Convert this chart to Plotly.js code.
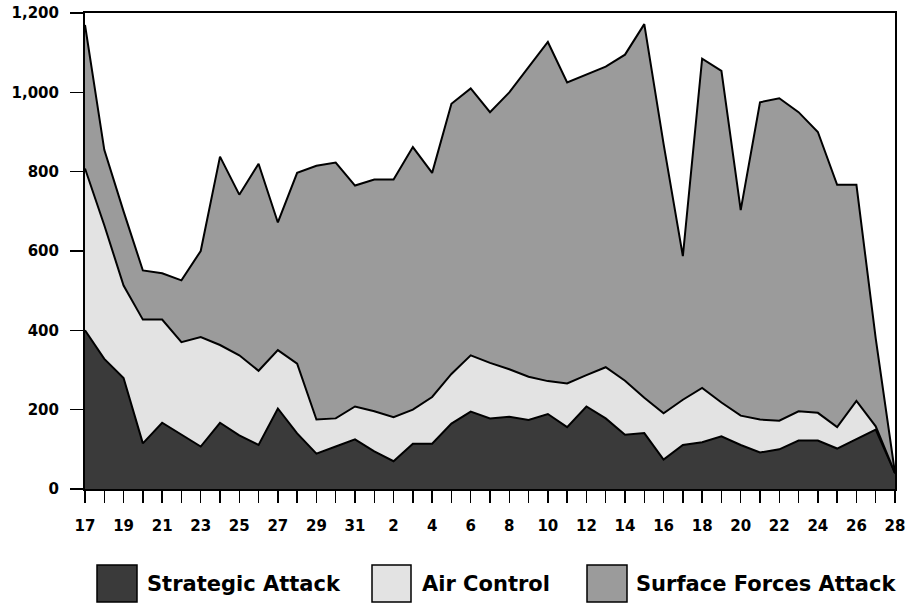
<!DOCTYPE html>
<html>
<head>
<meta charset="utf-8">
<script src="https://cdn.plot.ly/plotly-3.0.1.min.js"></script>
<style>
  html, body { margin: 0; padding: 0; background: #ffffff; }
  #chart { width: 906px; height: 603px; }
</style>
</head>
<body>
<div id="chart"></div>
<script>
// ---- Data (sorties per day) ----
const dates = [
  '1991-01-17','1991-01-18','1991-01-19','1991-01-20','1991-01-21','1991-01-22','1991-01-23',
  '1991-01-24','1991-01-25','1991-01-26','1991-01-27','1991-01-28','1991-01-29','1991-01-30',
  '1991-01-31','1991-02-01','1991-02-02','1991-02-03','1991-02-04','1991-02-05','1991-02-06',
  '1991-02-07','1991-02-08','1991-02-09','1991-02-10','1991-02-11','1991-02-12','1991-02-13',
  '1991-02-14','1991-02-15','1991-02-16','1991-02-17','1991-02-18','1991-02-19','1991-02-20',
  '1991-02-21','1991-02-22','1991-02-23','1991-02-24','1991-02-25','1991-02-26','1991-02-27',
  '1991-02-28'
];

const strategicAttack = [400,328,280,115,167,136,107,167,135,111,203,140,89,107,125,95,70,114,114,165,195,178,182,174,189,156,208,178,137,141,74,111,118,133,111,92,100,122,122,102,125,150,40];
const airControl = [408,337,233,312,260,234,276,196,202,187,147,176,86,71,83,101,111,86,118,125,142,140,120,109,83,110,79,129,136,89,117,114,137,85,74,83,72,74,70,54,97,8,0];
const surfaceForcesAttack = [362,190,187,124,117,156,217,475,405,522,322,481,640,645,557,584,599,662,565,681,673,632,698,782,855,759,758,758,822,942,679,362,830,836,518,800,813,754,708,611,545,222,0];

const seriesNames = ['Strategic Attack', 'Air Control', 'Surface Forces Attack'];
const seriesColors = ['#3a3a3a', '#e3e3e3', '#9b9b9b'];
const seriesValues = [strategicAttack, airControl, surfaceForcesAttack];

// ---- Layout geometry (pixels) ----
const W = 906, H = 603;
const M = { l: 85, r: 11, t: 13, b: 114 };
const plotW = W - M.l - M.r, plotH = H - M.t - M.b;
const pxX = x => (x - M.l) / plotW;
const pxY = y => (H - M.b - y) / plotH;

const FONT = { family: 'DejaVu Sans, Arial, sans-serif', color: '#000000', weight: 'bold' };

const traces = seriesValues.map((vals, i) => ({
  x: dates,
  y: vals,
  name: seriesNames[i],
  type: 'scatter',
  mode: 'lines',
  stackgroup: 'one',
  fillcolor: seriesColors[i],
  line: { color: '#000000', width: 2, shape: 'linear' },
  hoverinfo: 'x+y+name'
}));

// custom legend (large swatches like the original)
const legendItems = [
  { box: [97, 137], textX: 145 },
  { box: [372, 411], textX: 420 },
  { box: [587, 627], textX: 634 }
];
const shapes = legendItems.map((it, i) => ({
  type: 'rect', xref: 'paper', yref: 'paper',
  x0: pxX(it.box[0]), x1: pxX(it.box[1]),
  y0: pxY(602), y1: pxY(565),
  fillcolor: seriesColors[i],
  line: { color: '#000000', width: 1.5 }
}));
const annotations = legendItems.map((it, i) => ({
  xref: 'paper', yref: 'paper',
  x: pxX(it.textX), y: pxY(584),
  xanchor: 'left', yanchor: 'middle',
  text: seriesNames[i], showarrow: false,
  font: Object.assign({}, FONT, { size: 21 })
}));

const layout = {
  width: W, height: H,
  margin: M,
  paper_bgcolor: '#ffffff',
  plot_bgcolor: '#ffffff',
  showlegend: false,
  xaxis: {
    type: 'date',
    range: [dates[0], dates[dates.length - 1]],
    tick0: dates[0],
    dtick: 2 * 86400000,
    tickformat: '%-d',
    ticks: 'outside', ticklen: 12, tickwidth: 1.5, tickcolor: '#000000',
    minor: { dtick: 86400000, ticks: 'outside', ticklen: 12, tickwidth: 1.5, tickcolor: '#000000', showgrid: false },
    showline: true, linecolor: '#000000', linewidth: 2, mirror: true,
    showgrid: false, zeroline: false,
    tickfont: Object.assign({}, FONT, { size: 15 }),
    ticklabelstandoff: 10,
    fixedrange: true
  },
  yaxis: {
    range: [0, 1200],
    tickvals: [0, 200, 400, 600, 800, 1000, 1200],
    tickformat: ',d',
    ticks: 'outside', ticklen: 13, tickwidth: 1.5, tickcolor: '#000000',
    showline: true, linecolor: '#000000', linewidth: 2, mirror: true,
    showgrid: false, zeroline: false,
    tickfont: Object.assign({}, FONT, { size: 15 }),
    ticklabelstandoff: 8,
    fixedrange: true
  },
  shapes: shapes,
  annotations: annotations
};

Plotly.newPlot('chart', traces, layout, { displayModeBar: false, staticPlot: true });
</script>
</body>
</html>
